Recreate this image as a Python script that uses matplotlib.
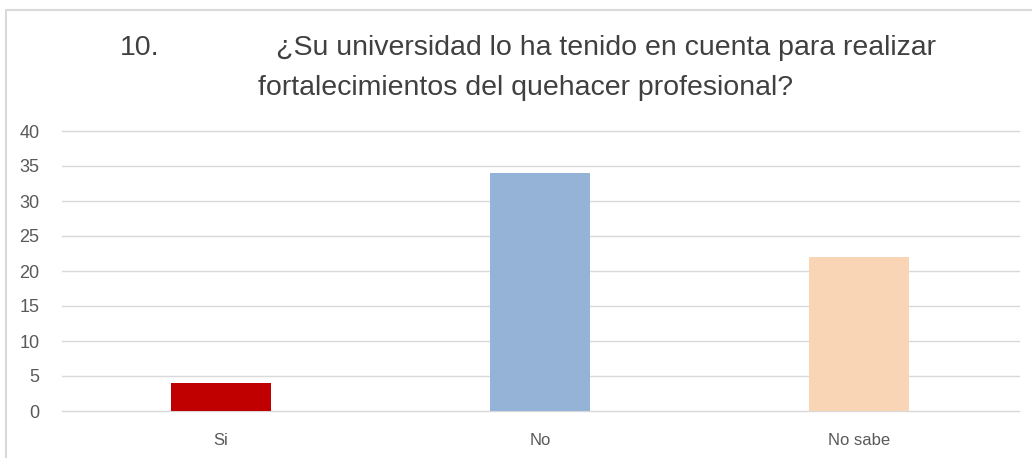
import matplotlib.pyplot as plt
from matplotlib.patches import Rectangle

categories = ["Si", "No", "No sabe"]
values = [4, 34, 22]
bar_colors = ["#C00000", "#95B3D7", "#FAD5B5"]
y_ticks = [0, 5, 10, 15, 20, 25, 30, 35, 40]

W, H = 1032, 458
fig = plt.figure(figsize=(W / 100, H / 100), dpi=100)
plt.rcParams['font.family'] = ['Liberation Sans', 'DejaVu Sans']

# outer chart border (cut off at right/bottom like the screenshot)
fig.patches.append(Rectangle((6 / W, -0.1), 1.2, 1 - 10 / H + 0.1,
                             transform=fig.transFigure, fill=False,
                             edgecolor="#D9D9D9", linewidth=1.5))

ax = fig.add_axes([61.5 / W, 47 / H, 957 / W, 280 / H])
x = range(len(categories))
ax.bar(x, values, width=0.313, color=bar_colors, zorder=2)

ax.set_xlim(-0.5, 2.5)
ax.set_ylim(0, 40)
ax.set_yticks(y_ticks)
ax.set_xticks(list(x))
ax.set_xticklabels(categories)
ax.grid(axis="y", color="#D9D9D9", linewidth=1, zorder=0)
ax.set_axisbelow(True)
for gl in ax.get_ygridlines():
    gl.set_clip_on(False)
for s in ax.spines.values():
    s.set_visible(False)
ax.tick_params(length=0, colors="#595959")
ax.tick_params(axis="y", pad=16, labelsize=13)
ax.tick_params(axis="x", pad=16, labelsize=12)

title_kw = dict(fontsize=20.5, color="#404040", va="center")
fig.text(120 / W, 1 - 48 / H, "10.", ha="left", **title_kw)
fig.text(606 / W, 1 - 48 / H,
         "¿Su universidad lo ha tenido en cuenta para realizar",
         ha="center", **title_kw)
fig.text(526 / W, 1 - 88 / H, "fortalecimientos del quehacer profesional?",
         ha="center", **title_kw)

fig.savefig("out.png", dpi=100)
